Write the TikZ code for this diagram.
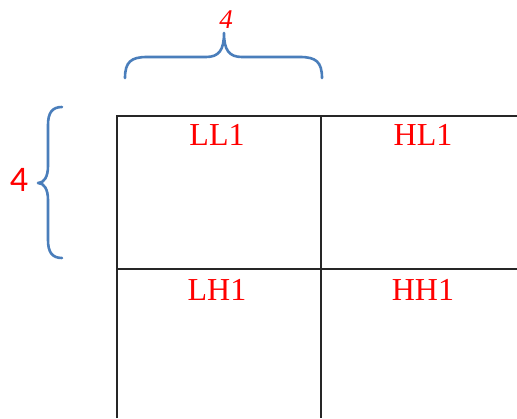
\documentclass[tikz,border=0pt]{standalone}
\usepackage{fontspec}
\setmainfont{Liberation Serif}
\newfontfamily\digitsans{Carlito}
\definecolor{braceblue}{RGB}{74,126,187}
\definecolor{labelred}{RGB}{255,0,0}
\begin{document}
\begin{tikzpicture}[x=1pt,y=-1pt,
  gridline/.style={draw=black!85,line width=1.1pt},
  bracepath/.style={draw=braceblue,line width=2.6pt,line cap=round,line join=round},
  bandlabel/.style={text=labelred,inner sep=0pt,font=\fontsize{32}{32}\selectfont},
  sizelabel/.style={text=labelred,inner sep=0pt}]
\useasboundingbox (0,0) rectangle (517,418);

% grid corners (the grid runs on past the right and bottom edges)
\coordinate (tl) at (117,116);
\coordinate (tm) at (321,116);
\coordinate (tr) at (517,116);
\coordinate (ml) at (117,269);
\coordinate (mr) at (517,269);
\coordinate (bl) at (117,418);
\coordinate (bm) at (321,418);

\draw[gridline] (bl) -- (tl) -- (tr);
\draw[gridline] (ml) -- (mr);
\draw[gridline] (tm) -- (bm);

% subband labels
\node[bandlabel] (LL) at (217,135) {LL1};
\node[bandlabel] (HL) at (423,135) {HL1};
\node[bandlabel] (LH) at (217,290) {LH1};
\node[bandlabel] (HH) at (423,290) {HH1};

% horizontal brace over the first column
\draw[bracepath] (125,78) .. controls (125,62) and (131,57) .. (147,57)
  -- (206,57) .. controls (219,57) and (224,50) .. (224,33)
  .. controls (224,50) and (229,57) .. (242,57)
  -- (300,57) .. controls (316,57) and (322,62) .. (322,78);
\node[sizelabel,font=\itshape\fontsize{27}{27}\selectfont] (topsize) at (226,20) {4};

% vertical brace beside the first row
\draw[bracepath] (62,107) .. controls (52,107) and (48,113) .. (48,125)
  -- (48,166) .. controls (48,177) and (44,183) .. (38,183)
  .. controls (44,183) and (48,189) .. (48,200)
  -- (48,240) .. controls (48,252) and (52,258) .. (62,258);
\node[sizelabel,font=\digitsans\fontsize{36}{36}\selectfont] (leftsize) at (19,180) {4};
\end{tikzpicture}
\end{document}
